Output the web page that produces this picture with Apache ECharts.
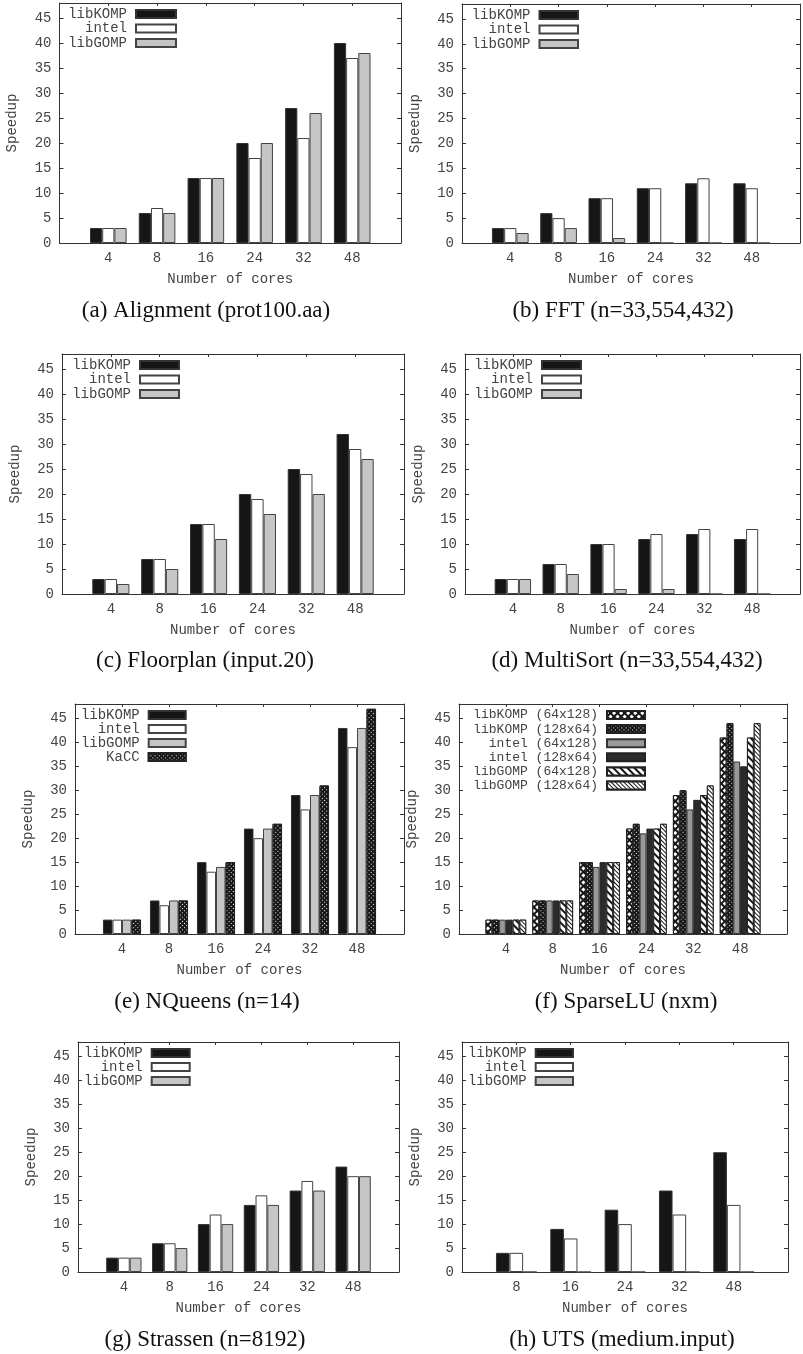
<!DOCTYPE html>
<html>
<head>
<meta charset="utf-8">
<script src="https://cdn.jsdelivr.net/npm/echarts@6/dist/echarts.min.js"></script>
<style>
html, body { margin: 0; padding: 0; background: #fff; }
#chart { width: 803px; height: 1354px; }
</style>
</head>
<body>
<div id="chart"></div>
<script>
// x categories (number of cores)
const cores = ['4', '8', '16', '24', '32', '48']
const coresUTS = ['8', '16', '24', '32', '48']

// (a) Alignment
const alignKOMP = [3, 6, 13, 20, 27, 40]
const alignIntel = [3, 7, 13, 17, 21, 37]
const alignGOMP = [3, 6, 13, 20, 26, 38]
// (b) FFT
const fftKOMP = [3, 6, 9, 11, 12, 12]
const fftIntel = [3, 5, 9, 11, 13, 11]
const fftGOMP = [2, 3, 1, 0, 0, 0]
// (c) Floorplan
const floorKOMP = [3, 7, 14, 20, 25, 32]
const floorIntel = [3, 7, 14, 19, 24, 29]
const floorGOMP = [2, 5, 11, 16, 20, 27]
// (d) MultiSort
const sortKOMP = [3, 6, 10, 11, 12, 11]
const sortIntel = [3, 6, 10, 12, 13, 13]
const sortGOMP = [3, 4, 1, 1, 0, 0]
// (e) NQueens
const queensKOMP = [3, 7, 15, 22, 29, 43]
const queensIntel = [3, 6, 13, 20, 26, 39]
const queensGOMP = [3, 7, 14, 22, 29, 43]
const queensKaCC = [3, 7, 15, 23, 31, 47]
// (f) SparseLU
const luKOMP64 = [3, 7, 15, 22, 29, 41]
const luKOMP128 = [3, 7, 15, 23, 30, 44]
const luIntel64 = [3, 7, 14, 21, 26, 36]
const luIntel128 = [3, 7, 15, 22, 28, 35]
const luGOMP64 = [3, 7, 15, 22, 29, 41]
const luGOMP128 = [3, 7, 15, 23, 31, 44]
// (g) Strassen
const strKOMP = [3, 6, 10, 14, 17, 22]
const strIntel = [3, 6, 12, 16, 19, 20]
const strGOMP = [3, 5, 10, 14, 17, 20]
// (h) UTS
const utsKOMP = [4, 9, 13, 17, 25]
const utsIntel = [4, 7, 10, 12, 14]
const utsGOMP = [0, 0, 0, 0, 0]

const yTicks = { min: 0, max: 48, interval: 5 }

const FONT = 'Liberation Mono'
const AXIS = '#333'
const TEXT = '#444'

const STYLES = {
    komp: { color: '#161616', borderColor: '#333', borderWidth: 1 },
    intel: { color: '#ffffff', borderColor: '#444', borderWidth: 1 },
    gomp: { color: '#c6c6c6', borderColor: '#444', borderWidth: 1 },
    dots: {
        color: '#161616', borderColor: '#222', borderWidth: 1,
        decal: { symbol: 'rect', symbolSize: 1, color: '#fff', backgroundColor: '#161616',
            dashArrayX: [1, 1.5], dashArrayY: [1, 1.5], rotation: Math.PI / 4 }
    },
    cross: {
        color: '#fff', borderColor: '#222', borderWidth: 1,
        decal: { symbol: 'rect', symbolSize: 1, color: '#fff', backgroundColor: '#161616',
            dashArrayX: [2.4, 1.1], dashArrayY: [2.4, 1.1], rotation: Math.PI / 4 }
    },
    gray: { color: '#999', borderColor: '#333', borderWidth: 1 },
    dark: { color: '#2b2b2b', borderColor: '#222', borderWidth: 1 },
    stripes: {
        color: '#fff', borderColor: '#222', borderWidth: 1,
        decal: { symbol: 'rect', symbolSize: 1, color: '#161616', backgroundColor: '#fff',
            dashArrayX: [1, 0], dashArrayY: [1.2, 2.8], rotation: Math.PI / 4 }
    },
    fine: {
        color: '#fff', borderColor: '#222', borderWidth: 1,
        decal: { symbol: 'rect', symbolSize: 1, color: '#161616', backgroundColor: '#fff',
            dashArrayX: [1, 0], dashArrayY: [1, 1.3], rotation: Math.PI / 4 }
    }
}

const panels = [
    { caption: '(a) Alignment (prot100.aa)', cats: cores,
      series: [['libKOMP', alignKOMP, 'komp'], ['intel', alignIntel, 'intel'], ['libGOMP', alignGOMP, 'gomp']],
      grid: { left: 59.5, top: 3, width: 341.5, height: 240 }, gap: '25%',
      legend: { x: 117.5, w: 40, size: 14, gap: 0.5 }, cap: [206, 311] },
    { caption: '(b) FFT (n=33,554,432)', cats: cores,
      series: [['libKOMP', fftKOMP, 'komp'], ['intel', fftIntel, 'intel'], ['libGOMP', fftGOMP, 'gomp']],
      grid: { left: 462, top: 4, width: 340, height: 239 }, gap: '24%',
      legend: { x: 117, w: 38.5, size: 14, gap: 0.5 }, cap: [623, 311] },
    { caption: '(c) Floorplan (input.20)', cats: cores,
      series: [['libKOMP', floorKOMP, 'komp'], ['intel', floorIntel, 'intel'], ['libGOMP', floorGOMP, 'gomp']],
      grid: { left: 62, top: 354, width: 342, height: 240 }, gap: '24%',
      legend: { x: 118, w: 39, size: 14, gap: 0.5 }, cap: [205, 661] },
    { caption: '(d) MultiSort (n=33,554,432)', cats: cores,
      series: [['libKOMP', sortKOMP, 'komp'], ['intel', sortIntel, 'intel'], ['libGOMP', sortGOMP, 'gomp']],
      grid: { left: 465, top: 354, width: 340, height: 240 }, gap: '24%',
      legend: { x: 117, w: 39, size: 14, gap: 0.5 }, cap: [627, 661] },
    { caption: '(e) NQueens (n=14)', cats: cores,
      series: [['libKOMP', queensKOMP, 'komp'], ['intel', queensIntel, 'intel'], ['libGOMP', queensGOMP, 'gomp'], ['KaCC', queensKaCC, 'dots']],
      grid: { left: 75, top: 704, width: 329, height: 230 }, gap: '19%',
      legend: { x: 111.7, w: 37, size: 14, gap: 0 }, cap: [207, 1002] },
    { caption: '(f) SparseLU (nxm)', cats: cores,
      series: [['libKOMP (64x128)', luKOMP64, 'cross'], ['libKOMP (128x64)', luKOMP128, 'dots'],
               ['intel (64x128)', luIntel64, 'gray'], ['intel (128x64)', luIntel128, 'dark'],
               ['libGOMP (64x128)', luGOMP64, 'stripes'], ['libGOMP (128x64)', luGOMP128, 'fine']],
      grid: { left: 459, top: 704, width: 328, height: 230 }, gap: '13%',
      legend: { x: 187, w: 38, size: 13, gap: 0.1 }, cap: [626, 1002] },
    { caption: '(g) Strassen (n=8192)', cats: cores,
      series: [['libKOMP', strKOMP, 'komp'], ['intel', strIntel, 'intel'], ['libGOMP', strGOMP, 'gomp']],
      grid: { left: 78, top: 1042, width: 321, height: 230 }, gap: '23%',
      legend: { x: 112.7, w: 38, size: 14, gap: 0 }, cap: [205, 1340] },
    { caption: '(h) UTS (medium.input)', cats: coresUTS,
      series: [['libKOMP', utsKOMP, 'komp'], ['intel', utsIntel, 'intel'], ['libGOMP', utsGOMP, 'gomp']],
      grid: { left: 462, top: 1042, width: 326, height: 230 }, gap: '25%',
      legend: { x: 112, w: 37.3, size: 14, gap: 0 }, cap: [622, 1340] }
]

const textStyle = { fontFamily: FONT, fontSize: 14, color: TEXT }

const option = {
    animation: false,
    backgroundColor: '#fff',
    grid: [], xAxis: [], yAxis: [], series: [], legend: [], graphic: []
}

panels.forEach((p, i) => {
    option.grid.push(Object.assign({ containLabel: false }, p.grid))
    const cats = [''].concat(p.cats, [''])
    const line = { show: true, onZero: false, lineStyle: { color: AXIS, width: 1 } }
    option.xAxis.push({
        type: 'category', gridIndex: i, data: cats, boundaryGap: false, position: 'bottom',
        axisLine: line,
        axisTick: { show: true, inside: true, length: 3, lineStyle: { color: AXIS } },
        axisLabel: Object.assign({ margin: 8, interval: 0 }, textStyle),
        splitLine: { show: false },
        name: 'Number of cores', nameLocation: 'middle', nameGap: 29, nameTextStyle: textStyle
    })
    option.xAxis.push({
        type: 'category', gridIndex: i, data: cats, boundaryGap: false, position: 'top',
        axisLine: line,
        axisTick: { show: true, inside: true, length: 3, lineStyle: { color: AXIS } },
        axisLabel: { show: false }, splitLine: { show: false }
    })
    option.yAxis.push(Object.assign({
        type: 'value', gridIndex: i, position: 'left',
        axisLine: line,
        axisTick: { show: true, inside: true, length: 4, lineStyle: { color: AXIS } },
        axisLabel: Object.assign({ margin: 8, showMaxLabel: false }, textStyle),
        splitLine: { show: false },
        name: 'Speedup', nameLocation: 'middle', nameGap: 40, nameTextStyle: textStyle
    }, yTicks))
    option.yAxis.push(Object.assign({
        type: 'value', gridIndex: i, position: 'right',
        axisLine: line,
        axisTick: { show: true, inside: true, length: 4, lineStyle: { color: AXIS } },
        axisLabel: { show: false }, splitLine: { show: false }
    }, yTicks))

    p.series.forEach(([name, data, key]) => {
        option.series.push({
            type: 'bar', name: name,
            xAxisIndex: 2 * i, yAxisIndex: 2 * i,
            data: [null].concat(data, [null]),
            itemStyle: STYLES[key],
            barGap: '0%', barCategoryGap: p.gap,
            silent: true
        })
    })

    const lg = p.legend
    option.legend.push({
        orient: 'vertical', align: 'right', padding: 0, icon: 'rect',
        right: 803 - (p.grid.left + lg.x), top: p.grid.top + 4,
        itemWidth: lg.w, itemHeight: 8, itemGap: lg.gap,
        selectedMode: false,
        data: p.series.map(s => s[0]),
        textStyle: { fontFamily: FONT, fontSize: lg.size, color: TEXT, lineHeight: 14, padding: [0, 4, 0, 0] }
    })

    option.graphic.push({
        type: 'text', x: p.cap[0], y: p.cap[1], silent: true,
        style: {
            text: p.caption, fill: '#111',
            fontFamily: 'Liberation Serif', fontSize: 23,
            align: 'center', verticalAlign: 'middle',
            textAlign: 'center', textVerticalAlign: 'middle'
        }
    })
})

const chart = echarts.init(document.getElementById('chart'), null, { renderer: 'canvas' })
chart.setOption(option)
</script>
</body>
</html>
